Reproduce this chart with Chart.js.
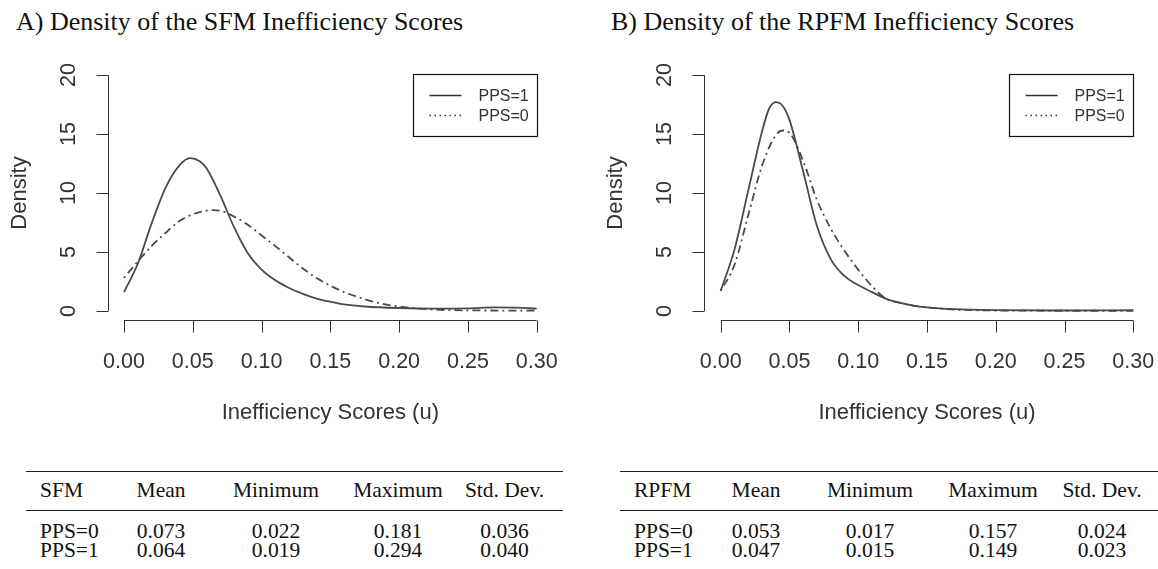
<!DOCTYPE html>
<html lang="en">
<head>
<meta charset="UTF-8">
<title>Density of the Inefficiency Scores</title>
<script src="https://cdn.jsdelivr.net/npm/chart.js"></script>
<style>
  body { margin: 0; width: 1158px; height: 569px; position: relative; background: #fff; overflow: hidden; }
  .title { position: absolute; top: 7px; font-family: "Liberation Serif", "Times New Roman", serif; font-size: 26px; color: #111; white-space: nowrap; }
  .panel { position: absolute; top: 0; width: 579px; height: 440px; }
  table { position: absolute; top: 471px; border-collapse: collapse; table-layout: fixed;
          font-family: "Liberation Serif", "Times New Roman", serif; font-size: 21.5px; color: #111; }
  th, td { text-align: center; font-weight: normal; line-height: 19px; padding: 0; white-space: nowrap; }
  th:first-child, td:first-child { text-align: left; padding-left: 14px; }
  thead tr { border-top: 1.5px solid #222; border-bottom: 1.5px solid #222; }
  thead th { padding-top: 9px; padding-bottom: 10px; }
  tbody tr:first-child td { padding-top: 11px; }
</style>
</head>
<body>
  <div class="title" style="left:16px">A) Density of the SFM Inefficiency Scores</div>
  <div class="title" style="left:611px">B) Density of the RPFM Inefficiency Scores</div>

  <canvas id="sfmChart" class="panel" width="579" height="440" style="left:0"></canvas>
  <canvas id="rpfmChart" class="panel" width="579" height="440" style="left:579px"></canvas>

  <table id="sfmTable" style="left:26px; width:537px"></table>
  <table id="rpfmTable" style="left:620px; width:538px"></table>

  <script>
    // tick labels
    const xTicks = [0, 0.05, 0.10, 0.15, 0.20, 0.25, 0.30];
    const yTicks = [0, 5, 10, 15, 20];
    const seriesLabels = ['PPS=1', 'PPS=0'];

    // A) SFM densities
    const sfmX1 = [0, 0.01, 0.02, 0.03, 0.04, 0.048, 0.055, 0.06, 0.07, 0.08, 0.09, 0.10, 0.11, 0.12, 0.13, 0.14, 0.15, 0.16, 0.175, 0.20, 0.225, 0.25, 0.27, 0.285, 0.30];
    const sfmY1 = [1.6, 4.0, 7.4, 10.4, 12.3, 12.95, 12.7, 12.1, 9.8, 7.1, 4.9, 3.5, 2.6, 1.95, 1.45, 1.05, 0.78, 0.55, 0.38, 0.25, 0.2, 0.22, 0.3, 0.28, 0.2];
    const sfmX0 = [0, 0.01, 0.02, 0.03, 0.04, 0.05, 0.06, 0.065, 0.07, 0.08, 0.09, 0.10, 0.11, 0.12, 0.13, 0.14, 0.15, 0.16, 0.175, 0.19, 0.20, 0.22, 0.25, 0.30];
    const sfmY0 = [2.8, 4.2, 5.5, 6.6, 7.6, 8.2, 8.5, 8.55, 8.5, 8.0, 7.3, 6.4, 5.5, 4.55, 3.6, 2.8, 2.15, 1.6, 1.0, 0.55, 0.38, 0.15, 0.05, 0.03];

    // B) RPFM densities
    const rpfmX1 = [0, 0.01, 0.02, 0.03, 0.035, 0.04, 0.045, 0.05, 0.06, 0.07, 0.08, 0.09, 0.10, 0.11, 0.12, 0.13, 0.14, 0.15, 0.17, 0.20, 0.25, 0.30];
    const rpfmY1 = [1.7, 5.2, 10.2, 15.2, 17.1, 17.7, 17.4, 16.2, 11.8, 7.2, 4.4, 2.95, 2.2, 1.6, 1.05, 0.7, 0.45, 0.3, 0.15, 0.07, 0.04, 0.06];
    const rpfmX0 = [0, 0.01, 0.02, 0.03, 0.04, 0.045, 0.05, 0.06, 0.07, 0.08, 0.09, 0.10, 0.11, 0.12, 0.13, 0.14, 0.15, 0.17, 0.20, 0.25, 0.30];
    const rpfmY0 = [1.7, 3.9, 8.1, 12.3, 14.9, 15.3, 15.1, 12.7, 9.4, 7.0, 5.1, 3.5, 2.1, 1.05, 0.7, 0.45, 0.3, 0.12, 0.04, 0.02, 0.02];

    // summary tables
    const statCols = ['Mean', 'Minimum', 'Maximum', 'Std. Dev.'];
    const rowLabels = ['PPS=0', 'PPS=1'];
    const sfmStats0 = ['0.073', '0.022', '0.181', '0.036'];
    const sfmStats1 = ['0.064', '0.019', '0.294', '0.040'];
    const rpfmStats0 = ['0.053', '0.017', '0.157', '0.024'];
    const rpfmStats1 = ['0.047', '0.015', '0.149', '0.023'];

    const ink = '#333';
    const curveColor = '#4a4a4a';
    const sansFont = '"Liberation Sans", Arial, sans-serif';

    function pts(xs, ys) {
      return xs.map((x, i) => ({ x: x, y: ys[i] }));
    }

    // R style axes, axis titles and legend box
    const rAxes = {
      id: 'rAxes',
      afterDraw(chart) {
        const { ctx, chartArea, scales: { x, y } } = chart;
        const ax = Math.round(chartArea.left) + 0.5;
        const ay = Math.round(chartArea.bottom) + 0.5;
        ctx.save();
        ctx.strokeStyle = ink;
        ctx.fillStyle = ink;
        ctx.lineWidth = 1;

        // y axis
        ctx.beginPath();
        ctx.moveTo(ax, y.getPixelForValue(yTicks[0]));
        ctx.lineTo(ax, y.getPixelForValue(yTicks[yTicks.length - 1]));
        yTicks.forEach(t => {
          const py = Math.round(y.getPixelForValue(t)) + 0.5;
          ctx.moveTo(ax, py);
          ctx.lineTo(ax - 12, py);
        });
        // x axis
        ctx.moveTo(x.getPixelForValue(xTicks[0]), ay);
        ctx.lineTo(x.getPixelForValue(xTicks[xTicks.length - 1]), ay);
        xTicks.forEach(t => {
          const px = Math.round(x.getPixelForValue(t)) + 0.5;
          ctx.moveTo(px, ay);
          ctx.lineTo(px, ay + 12);
        });
        ctx.stroke();

        ctx.font = '21.5px ' + sansFont;
        ctx.textAlign = 'center';
        ctx.textBaseline = 'middle';
        yTicks.forEach(t => {
          ctx.save();
          ctx.translate(ax - 39, y.getPixelForValue(t));
          ctx.rotate(-Math.PI / 2);
          ctx.fillText(String(t), 0, 0);
          ctx.restore();
        });
        xTicks.forEach(t => {
          ctx.fillText(t.toFixed(2), x.getPixelForValue(t), ay + 42);
        });

        // axis titles
        ctx.font = '22px ' + sansFont;
        const midX = (x.getPixelForValue(0) + x.getPixelForValue(0.3)) / 2;
        ctx.fillText('Inefficiency Scores (u)', midX, ay + 92);
        ctx.save();
        ctx.translate(ax - 89, y.getPixelForValue(10));
        ctx.rotate(-Math.PI / 2);
        ctx.fillText('Density', 0, 0);
        ctx.restore();

        // legend box
        const bx1 = Math.round(x.getPixelForValue(0.3)) + 0.5;
        const bx0 = bx1 - 124;
        const by0 = Math.round(y.getPixelForValue(20)) - 0.5;
        ctx.strokeStyle = '#111';
        ctx.lineWidth = 1.2;
        ctx.strokeRect(bx0, by0, bx1 - bx0, 62);
        ctx.font = '16px ' + sansFont;
        ctx.textAlign = 'left';
        chart.data.datasets.forEach((ds, i) => {
          const ly = by0 + 21 + i * 20;
          ctx.beginPath();
          ctx.strokeStyle = '#333';
          ctx.lineWidth = 1.5;
          ctx.setLineDash(i === 0 ? [] : [1.5, 3.5]);
          ctx.moveTo(bx0 + 16, ly);
          ctx.lineTo(bx0 + 48, ly);
          ctx.stroke();
          ctx.setLineDash([]);
          ctx.fillText(ds.label, bx0 + 65, ly + 1);
        });
        ctx.restore();
      }
    };

    function makePanel(id, x1, y1, x0, y0, padLeft, padRight) {
      const ctx = document.getElementById(id).getContext('2d');
      new Chart(ctx, {
        type: 'line',
        data: {
          datasets: [{
            label: seriesLabels[0],
            data: pts(x1, y1),
            borderColor: curveColor,
            borderWidth: 1.8,
            pointRadius: 0,
            cubicInterpolationMode: 'monotone',
            fill: false
          }, {
            label: seriesLabels[1],
            data: pts(x0, y0),
            borderColor: curveColor,
            borderWidth: 1.8,
            borderDash: [2, 4, 8, 4],
            pointRadius: 0,
            cubicInterpolationMode: 'monotone',
            fill: false
          }]
        },
        options: {
          responsive: false,
          animation: false,
          events: [],
          layout: { padding: { left: padLeft, right: padRight, top: 65.6, bottom: 119.6 } },
          plugins: { legend: { display: false }, tooltip: { enabled: false } },
          scales: {
            x: { type: 'linear', display: false, min: -0.012, max: 0.312 },
            y: { display: false, min: -0.8, max: 20.8 }
          }
        },
        plugins: [rAxes]
      });
    }

    makePanel('sfmChart', sfmX1, sfmY1, sfmX0, sfmY0, 107.5, 25.8);
    makePanel('rpfmChart', rpfmX1, rpfmY1, rpfmX0, rpfmY0, 125.2, 8.2);

    function makeTable(id, name, widths, rows) {
      const t = document.getElementById(id);
      let html = '<colgroup>' + widths.map(w => `<col style="width:${w}px">`).join('') + '</colgroup>';
      html += '<thead><tr><th>' + name + '</th>' + statCols.map(c => `<th>${c}</th>`).join('') + '</tr></thead><tbody>';
      rows.forEach((r, i) => {
        html += '<tr><td>' + rowLabels[i] + '</td>' + r.map(v => `<td>${v}</td>`).join('') + '</tr>';
      });
      t.innerHTML = html + '</tbody>';
    }

    makeTable('sfmTable', 'SFM', [94, 82, 148, 96, 117], [sfmStats0, sfmStats1]);
    makeTable('rpfmTable', 'RPFM', [92, 88, 140, 106, 112], [rpfmStats0, rpfmStats1]);
  </script>
</body>
</html>
